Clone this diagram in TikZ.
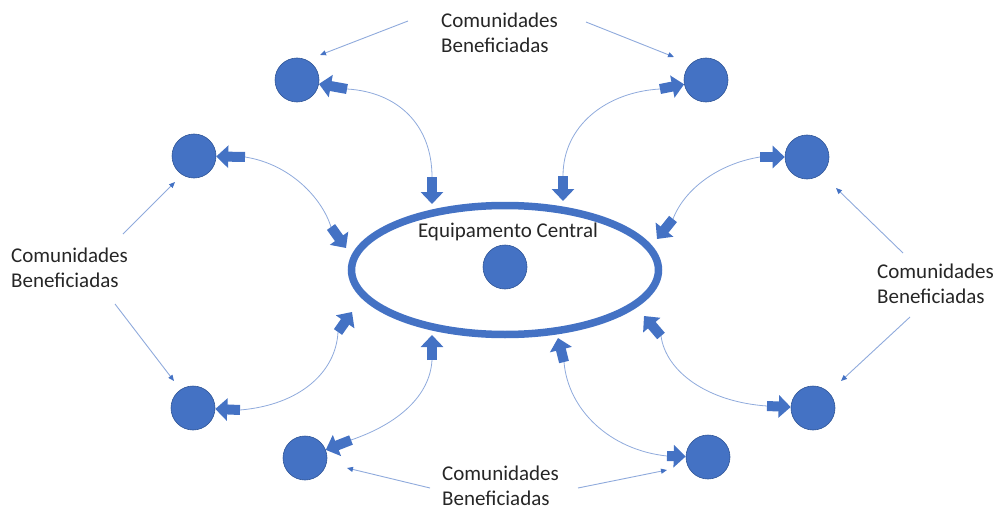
\documentclass[tikz,border=0pt]{standalone}
\usepackage{fontspec}
\setmainfont{Carlito}
\usetikzlibrary{arrows.meta,shapes.geometric}
\definecolor{bblue}{HTML}{4472C4}
\definecolor{bedge}{HTML}{2F5597}
\definecolor{lblue}{HTML}{8FAADC}
\definecolor{tgray}{HTML}{262626}
\begin{document}
\begin{tikzpicture}[x=1pt,y=-1pt,
  dot/.style={circle,fill=bblue,draw=bedge,line width=0.6pt,minimum size=44pt,inner sep=0pt},
  blk/.style={line width=10pt,draw=bblue,-{Triangle[width=22pt,length=12pt]}},
  curve/.style={draw=lblue,line width=0.8pt},
  thinarr/.style={draw=lblue,line width=0.9pt,-{Triangle[length=6pt,width=5pt,color=bblue]}},
  lbl/.style={font=\fontsize{21}{25}\selectfont,text=tgray,align=left,inner sep=0pt,anchor=west}]
\useasboundingbox (0,0) rectangle (1002,511);
% central ellipse and dot
\node[ellipse,draw=bblue,line width=7.5pt,minimum width=307pt,minimum height=129pt,inner sep=0pt] (E) at (505,270) {};
\node[dot] (c0) at (505,267) {};
\node[font=\fontsize{21}{25}\selectfont,text=tgray,inner sep=0pt] (ec) at (508,232) {Equipamento Central};
% community dots
\node[dot] (c1) at (297,80) {};
\node[dot] (c2) at (706,80) {};
\node[dot] (c3) at (194,156) {};
\node[dot] (c4) at (807,157) {};
\node[dot] (c5) at (193,408) {};
\node[dot] (c6) at (813,408) {};
\node[dot] (c7) at (305,458) {};
\node[dot] (c8) at (708,457) {};
% tails near dots
\coordinate (a1) at (347,89);
\coordinate (a2) at (660,89);
\coordinate (a3) at (245,157);
\coordinate (a4) at (760,157);
\coordinate (a5) at (240,410);
\coordinate (a6) at (767,406);
\coordinate (a7) at (351,440);
\coordinate (a8) at (667,456);
% tails near ellipse
\coordinate (b1) at (432,177);
\coordinate (b2) at (563,176);
\coordinate (b3) at (331,227);
\coordinate (b4) at (673,219);
\coordinate (b5) at (338,332);
\coordinate (b6) at (661,336);
\coordinate (b7) at (432,360);
\coordinate (b8) at (564,362);
% tips on ellipse
\coordinate (e1) at (432,204);
\coordinate (e2) at (563,201);
\coordinate (e3) at (346,248);
\coordinate (e4) at (657,239);
\coordinate (e5) at (352,312);
\coordinate (e6) at (644,316);
\coordinate (e7) at (432,335);
\coordinate (e8) at (558,338);
% curves
\draw[curve] (a1) .. controls (398,92) and (432,125) .. (b1);
\draw[curve] (a2) .. controls (607,92) and (563,125) .. (b2);
\draw[curve] (a3) .. controls (290,164) and (322,198) .. (b3);
\draw[curve] (a4) .. controls (717,164) and (684,190) .. (b4);
\draw[curve] (a5) .. controls (300,405) and (336,372) .. (b5);
\draw[curve] (a6) .. controls (708,402) and (666,372) .. (b6);
\draw[curve] (a7) .. controls (398,424) and (430,396) .. (b7);
\draw[curve] (a8) .. controls (610,450) and (568,410) .. (b8);
% block arrows
\foreach \i in {1,...,8}{
  \draw[blk] (a\i) -- (c\i);
  \draw[blk] (b\i) -- (e\i);
}
% labels
\node[lbl] (Lt) at (441,33) {Comunidades\\Beneficiadas};
\node[lbl] (Ll) at (11,268) {Comunidades\\Beneficiadas};
\node[lbl] (Lr) at (877,284) {Comunidades\\Beneficiadas};
\node[lbl] (Lb) at (442,486) {Comunidades\\Beneficiadas};
% thin arrows
\coordinate (s1) at (408,21);  \coordinate (d1) at (320,55);
\coordinate (s2) at (586,22);  \coordinate (d2) at (674,57);
\coordinate (s3) at (123,234); \coordinate (d3) at (175,182);
\coordinate (s4) at (115,304); \coordinate (d4) at (174,381);
\coordinate (s5) at (903,253); \coordinate (d5) at (836,188);
\coordinate (s6) at (910,317); \coordinate (d6) at (841,381);
\coordinate (s7) at (430,488); \coordinate (d7) at (347,468);
\coordinate (s8) at (578,488); \coordinate (d8) at (667,470);
\foreach \i in {1,...,8}{
  \draw[thinarr] (s\i) -- (d\i);
}
\end{tikzpicture}
\end{document}
